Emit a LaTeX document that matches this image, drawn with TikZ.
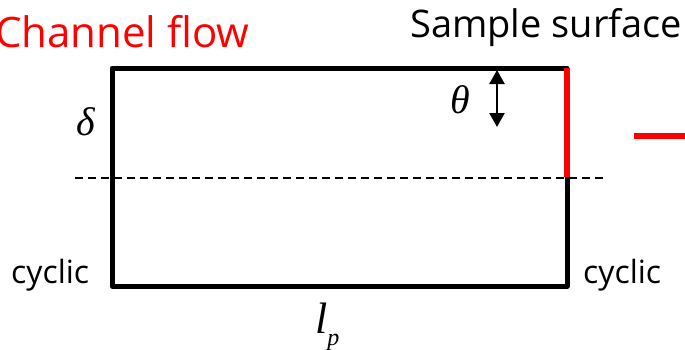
\documentclass[tikz,border=0pt]{standalone}
\usepackage{fontspec}
\setmainfont{Open Sans}
\newfontfamily\grk{Liberation Serif}
\usetikzlibrary{arrows.meta}
\begin{document}
\begin{tikzpicture}[x=1pt,y=-1pt,
  wall/.style={line width=5pt,line cap=round,line join=round},
  redwall/.style={line width=5.5pt,red},
  dashline/.style={line width=2.4pt,dash pattern=on 8pt off 5pt},
  lab/.style={inner sep=0pt,anchor=base west,font=\fontsize{32}{36}\selectfont},
  title/.style={inner sep=0pt,anchor=base west},
  sym/.style={inner sep=0pt,font=\grk\itshape\fontsize{40}{44}\selectfont}]
\useasboundingbox (0,0) rectangle (685,349);
\coordinate (tl) at (112,68);
\coordinate (tr) at (567,68);
\coordinate (bl) at (112,286);
\coordinate (br) at (567,286);
\coordinate (dl) at (75,178);
\coordinate (dr) at (604,178);
\coordinate (rm) at (567,177);
\coordinate (rs1) at (634,136);
\coordinate (rs2) at (686,136);
\coordinate (a1) at (497,70);
\coordinate (a2) at (497,127);
\draw[dashline] (dl) -- (dr);
\draw[wall] (tr) -- (tl) -- (bl) -- (br) -- (rm);
\draw[redwall] (tr) -- (rm);
\draw[redwall] (rs1) -- (rs2);
\draw[line width=2.2pt,{Triangle[length=14pt,width=15pt]}-{Triangle[length=14pt,width=15pt]}] (a1) -- (a2);
\node[title,red,font=\fontsize{42}{48}\selectfont] (cf) at (-5,47) {Channel flow};
\node[title,font=\fontsize{38}{44}\selectfont] (ss) at (410,37) {Sample surface};
\node[lab] (cyl) at (11,283) {cyclic};
\node[lab] (cyr) at (583,283) {cyclic};
\node[sym] (delta) at (86,122) {δ};
\node[sym] (theta) at (460,100) {θ};
\node[inner sep=0pt,anchor=base west,font=\grk\itshape\fontsize{44}{48}\selectfont] (lp) at (315,333) {l\raisebox{-12pt}{\fontsize{24}{26}\selectfont p}};
\end{tikzpicture}
\end{document}
